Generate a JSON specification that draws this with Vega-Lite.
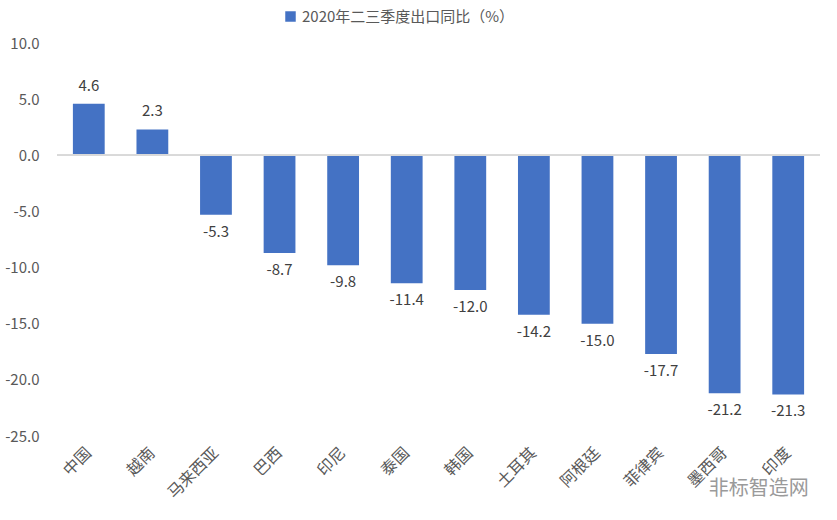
{
  "$schema": "https://vega.github.io/schema/vega-lite/v6.json",
  "width": 763,
  "height": 393,
  "autosize": {"type": "none"},
  "padding": {"left": 57, "top": 43, "right": 17, "bottom": 84},
  "background": "white",
  "config": {
    "view": {"stroke": null},
    "font": "Noto Sans CJK SC",
    "axis": {"labelColor": "#595959", "labelFont": "Noto Sans CJK SC"},
    "locale": {
      "number": {
        "decimal": ".",
        "thousands": ",",
        "grouping": [3],
        "currency": ["$", ""],
        "minus": "-"
      }
    }
  },
  "title": {
    "text": "非标智造网",
    "orient": "bottom",
    "anchor": "end",
    "offset": -22,
    "dx": -12,
    "fontSize": 20,
    "fontWeight": "normal",
    "color": "#9a9a9a"
  },
  "data": {
    "values": [
      {"country": "中国", "value": 4.6, "series": "2020年二三季度出口同比（%）"},
      {"country": "越南", "value": 2.3, "series": "2020年二三季度出口同比（%）"},
      {"country": "马来西亚", "value": -5.3, "series": "2020年二三季度出口同比（%）"},
      {"country": "巴西", "value": -8.7, "series": "2020年二三季度出口同比（%）"},
      {"country": "印尼", "value": -9.8, "series": "2020年二三季度出口同比（%）"},
      {"country": "泰国", "value": -11.4, "series": "2020年二三季度出口同比（%）"},
      {"country": "韩国", "value": -12.0, "series": "2020年二三季度出口同比（%）"},
      {"country": "土耳其", "value": -14.2, "series": "2020年二三季度出口同比（%）"},
      {"country": "阿根廷", "value": -15.0, "series": "2020年二三季度出口同比（%）"},
      {"country": "菲律宾", "value": -17.7, "series": "2020年二三季度出口同比（%）"},
      {"country": "墨西哥", "value": -21.2, "series": "2020年二三季度出口同比（%）"},
      {"country": "印度", "value": -21.3, "series": "2020年二三季度出口同比（%）"}
    ]
  },
  "encoding": {
    "x": {
      "field": "country",
      "type": "nominal",
      "sort": null,
      "scale": {"paddingInner": 0.5, "paddingOuter": 0.25},
      "axis": {
        "title": null,
        "domain": false,
        "ticks": false,
        "labelAngle": -45,
        "labelAlign": "right",
        "labelBaseline": "middle",
        "labelFontSize": 16,
        "labelPadding": 14
      }
    }
  },
  "layer": [
    {
      "mark": {"type": "bar"},
      "encoding": {
        "y": {
          "field": "value",
          "type": "quantitative",
          "scale": {"domain": [-25, 10], "nice": false},
          "axis": {
            "title": null,
            "values": [-25, -20, -15, -10, -5, 0, 5, 10],
            "format": ".1f",
            "grid": false,
            "domain": false,
            "ticks": false,
            "labelFontSize": 15,
            "labelPadding": 18
          }
        },
        "color": {
          "field": "series",
          "type": "nominal",
          "scale": {"range": ["#4472C4"]},
          "legend": {
            "title": null,
            "orient": "none",
            "legendX": 226,
            "legendY": -34,
            "symbolType": "square",
            "symbolSize": 110,
            "symbolStrokeWidth": 0,
            "labelFontSize": 15,
            "labelLimit": 400,
            "labelColor": "#595959",
            "labelFont": "Noto Sans CJK SC"
          }
        }
      }
    },
    {
      "mark": {"type": "rule", "color": "#d9d9d9", "strokeWidth": 1.5},
      "encoding": {"y": {"datum": 0, "type": "quantitative"}, "x": {"value": 0}, "x2": {"value": 763}}
    },
    {
      "transform": [{"filter": "datum.value >= 0"}],
      "mark": {"type": "text", "baseline": "bottom", "dy": -10, "fontSize": 15, "color": "#404040"},
      "encoding": {
        "y": {"field": "value", "type": "quantitative"},
        "text": {"field": "value", "type": "quantitative", "format": ".1f"}
      }
    },
    {
      "transform": [{"filter": "datum.value < 0"}],
      "mark": {"type": "text", "baseline": "top", "dy": 10, "fontSize": 15, "color": "#404040"},
      "encoding": {
        "y": {"field": "value", "type": "quantitative"},
        "text": {"field": "value", "type": "quantitative", "format": ".1f"}
      }
    }
  ]
}
